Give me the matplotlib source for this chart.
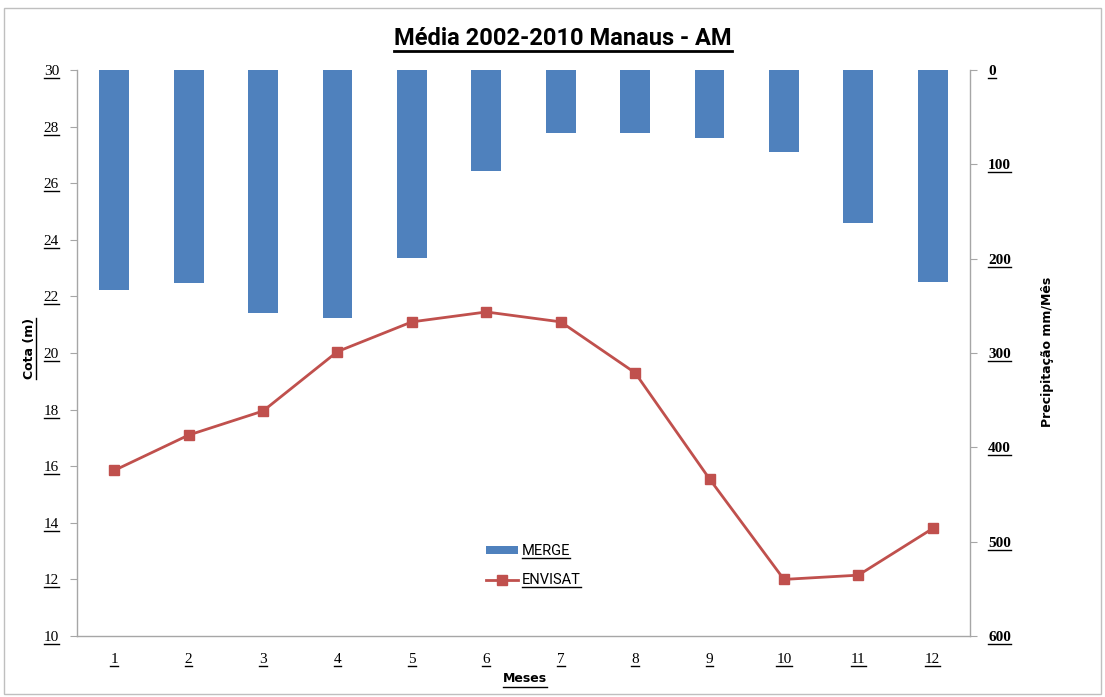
import matplotlib
matplotlib.use("Agg")
import matplotlib.pyplot as plt
from matplotlib.patches import Rectangle, Patch
from matplotlib.lines import Line2D

meses = [1, 2, 3, 4, 5, 6, 7, 8, 9, 10, 11, 12]
merge_precip = [233, 226, 258, 263, 199, 107, 67, 67, 72, 87, 162, 225]
envisat_cota = [15.85, 17.1, 17.95, 20.05, 21.1, 21.45, 21.1, 19.3, 15.55, 12.0, 12.15, 13.8]

cota_ticks = list(range(10, 31, 2))
precip_ticks = list(range(0, 601, 100))

BAR_COLOR = '#4F81BD'
LINE_COLOR = '#C0504D'
GRID_GRAY = '#A6A6A6'
SERIF = 'Liberation Serif'
SANS = 'DejaVu Sans'
NARROW = ['Roboto', 'DejaVu Sans']

fig = plt.figure(figsize=(11.05, 6.97), dpi=100)
fig.patches.append(Rectangle((0.004, 0.004), 0.992, 0.984, transform=fig.transFigure,
                             fill=False, edgecolor='#BFBFBF', lw=1))

ax1 = fig.add_axes([0.0697, 0.0875, 0.8081, 0.8121])
ax2 = ax1.twinx()

# precipitation bars hang from the top of the right axis
ax2.bar(meses, merge_precip, width=0.4, color=BAR_COLOR, label='MERGE')
ax2.set_ylim(600, 0)
ax2.set_yticks(precip_ticks)

ax1.plot(meses, envisat_cota, color=LINE_COLOR, lw=2, marker='s', ms=7,
         label='ENVISAT')
ax1.set_zorder(ax2.get_zorder() + 1)
ax1.patch.set_visible(False)
ax1.set_ylim(10, 30)
ax1.set_yticks(cota_ticks)
ax1.set_xlim(0.5, 12.5)
ax1.set_xticks(meses)

for ax in (ax1, ax2):
    for side in ('top', 'left', 'right', 'bottom'):
        ax.spines[side].set_visible(False)
ax1.spines['left'].set_visible(True)
ax1.spines['bottom'].set_visible(True)
ax2.spines['right'].set_visible(True)
for sp in (ax1.spines['left'], ax1.spines['bottom'], ax2.spines['right']):
    sp.set_color(GRID_GRAY)
    sp.set_linewidth(1)

ax1.tick_params(axis='y', direction='out', length=5, color=GRID_GRAY, pad=8)
ax1.tick_params(axis='x', length=0, pad=12)
ax2.tick_params(axis='y', direction='out', length=5, color=GRID_GRAY, pad=8)

for lab in ax1.get_yticklabels() + ax1.get_xticklabels():
    lab.set_fontfamily(SERIF)
    lab.set_fontsize(11)
for lab in ax2.get_yticklabels():
    lab.set_fontfamily(SERIF)
    lab.set_fontsize(11)
    lab.set_fontweight('bold')

title = fig.text(0.5095, 0.945, 'Média 2002-2010 Manaus - AM', ha='center', va='center',
                 fontsize=17, fontweight='bold', family=NARROW)
xlab = fig.text(0.475, 0.027, 'Meses', ha='center', va='center', fontsize=9,
                fontweight='bold', family=SANS)
ylab = fig.text(0.027, 0.5, 'Cota (m)', ha='center', va='center', rotation=90,
                fontsize=9, fontweight='bold', family=SANS)
fig.text(0.948, 0.495, 'Precipitação mm/Mês', ha='center', va='center', rotation=90,
         fontsize=9, fontweight='bold', family=SANS)

handles = [Patch(facecolor=BAR_COLOR), Line2D([], [], color=LINE_COLOR, lw=2, marker='s', ms=7)]
leg = ax1.legend(handles, ['MERGE', 'ENVISAT'], loc='center', bbox_to_anchor=(0.511, 0.124),
                 frameon=False, handlelength=2.2, handleheight=0.5, labelspacing=1.05,
                 handletextpad=0.3, prop={'family': NARROW, 'size': 10.5})

# underline texts the way the spreadsheet draws them
fig.canvas.draw()
renderer = fig.canvas.get_renderer()


def underline(txt, lw=1.0, gap=2):
    bb = txt.get_window_extent(renderer)
    if txt.get_rotation() == 90:
        x = bb.x1 + gap
        fig.add_artist(Line2D([x / fig.bbox.width] * 2,
                              [bb.y0 / fig.bbox.height, bb.y1 / fig.bbox.height],
                              transform=fig.transFigure, color='black', lw=lw))
    else:
        y = bb.y0 - gap
        fig.add_artist(Line2D([bb.x0 / fig.bbox.width, bb.x1 / fig.bbox.width],
                              [y / fig.bbox.height] * 2,
                              transform=fig.transFigure, color='black', lw=lw))


underline(title, lw=2, gap=1)
underline(xlab)
underline(ylab, gap=0)
for lab in ax1.get_yticklabels() + ax1.get_xticklabels() + ax2.get_yticklabels():
    underline(lab, gap=0)
for t in leg.get_texts():
    underline(t, gap=0)

fig.savefig('out.png', dpi=100)
